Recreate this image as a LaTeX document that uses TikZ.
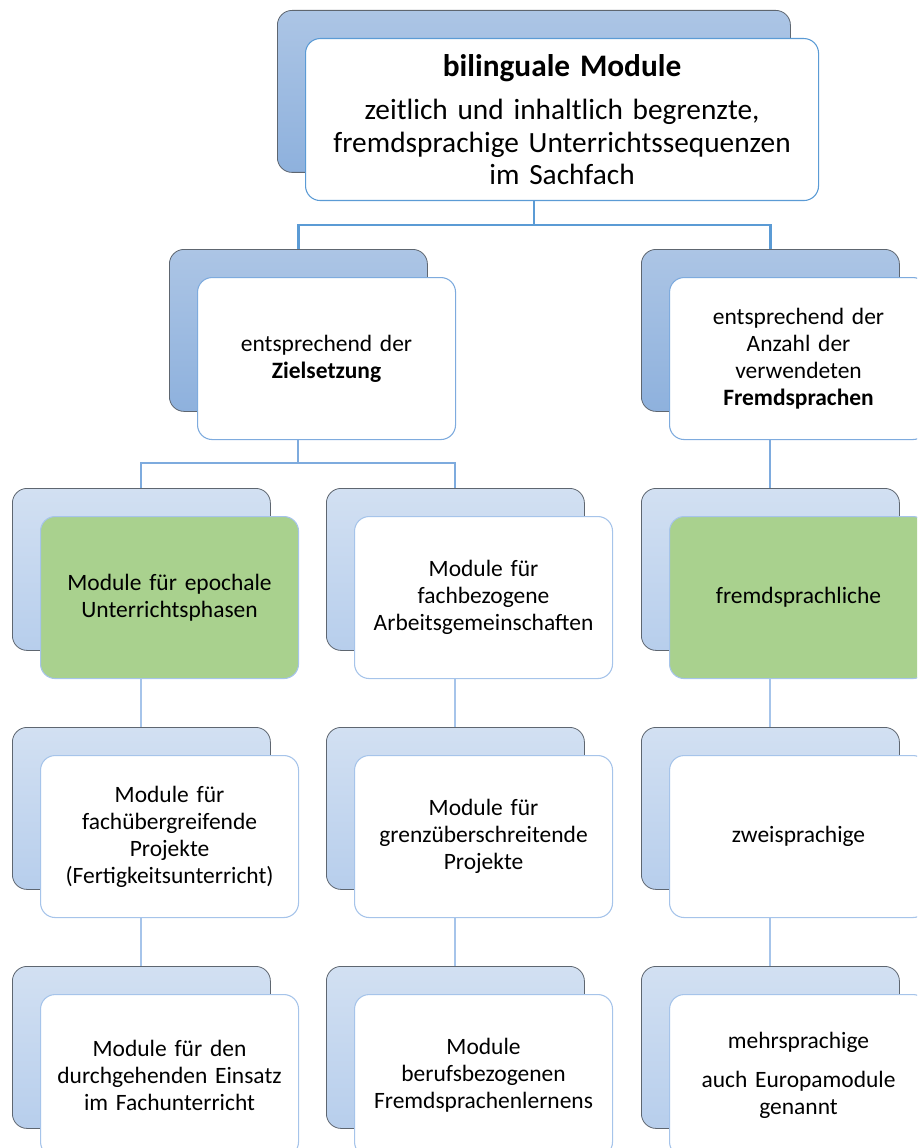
\documentclass[tikz,border=0pt]{standalone}
\usepackage{fontspec}
\setmainfont{Carlito}
\definecolor{edgegray}{HTML}{5E6670}
\definecolor{topA}{HTML}{ACC5E5}
\definecolor{botA}{HTML}{8EB1DD}
\definecolor{topB}{HTML}{D2E0F2}
\definecolor{botB}{HTML}{B7CEEC}
\definecolor{lineA}{HTML}{5B9BD5}
\definecolor{lineB}{HTML}{7EABDE}
\definecolor{lineC}{HTML}{A6C4EA}
\definecolor{leaf}{HTML}{A9D18E}
\begin{document}
\begin{tikzpicture}[x=0.75pt,y=-0.75pt,
  backbox/.style={draw=edgegray, line width=0.6pt, rounded corners=11pt,
    minimum width=193.5pt, minimum height=121.5pt, inner sep=0pt, anchor=north west},
  backdark/.style={backbox, top color=topA, bottom color=botA},
  backlight/.style={backbox, top color=topB, bottom color=botB},
  card/.style={fill=white, line width=0.8pt, rounded corners=11pt,
    minimum width=193.5pt, minimum height=121.5pt, inner xsep=2pt, text width=189pt,
    align=center, anchor=north west, font=\fontsize{17.6}{20.3}\selectfont},
  cardA/.style={card, draw=lineA},
  cardB/.style={card, draw=lineB},
  cardC/.style={card, draw=lineC},
  linkA/.style={draw=lineA, line width=1.9pt},
  linkB/.style={draw=lineB, line width=1.5pt},
  linkC/.style={draw=lineC, line width=1.5pt}]
\useasboundingbox (0,0) rectangle (917,1148);
\clip (0,0) rectangle (917,1148);

% level 1
\node[backdark, minimum width=384.75pt] (topb) at (277,10) {};
\node[cardA, minimum width=384.75pt, text width=378pt,
      font=\fontsize{22}{24.4}\selectfont] (top) at (305,38)
  {{\fontsize{23.5}{24}\selectfont\bfseries bilinguale Module}\\[8pt]
   zeitlich und inhaltlich begrenzte,\\
   fremdsprachige Unterrichtssequenzen\\
   im Sachfach};

% level 2
\node[backdark] (zielb) at (169,249) {};
\node[cardB] (ziel) at (197,277) {entsprechend der\\\textbf{Zielsetzung}};
\node[backdark] (fremdb) at (641,249) {};
\node[cardB] (fremd) at (669,277)
  {entsprechend der\\Anzahl der\\verwendeten\\\textbf{Fremdsprachen}};

% level 3
\node[backlight] (epob) at (12,488) {};
\node[cardC, fill=leaf] (epo) at (40,516) {Module für epochale\\Unterrichtsphasen};
\node[backlight] (agb) at (326,488) {};
\node[cardC] (ag) at (354,516) {Module für\\fachbezogene\\Arbeitsgemeinschaften};
\node[backlight] (fsb) at (641,488) {};
\node[cardC, fill=leaf] (fs) at (669,516) {fremdsprachliche};

% level 4
\node[backlight] (projb) at (12,727) {};
\node[cardC] (proj) at (40,755)
  {Module für\\fachübergreifende\\Projekte\\(Fertigkeitsunterricht)};
\node[backlight] (grenzb) at (326,727) {};
\node[cardC] (grenz) at (354,755) {Module für\\grenzüberschreitende\\Projekte};
\node[backlight] (zweib) at (641,727) {};
\node[cardC] (zwei) at (669,755) {zweisprachige};

% level 5
\node[backlight] (durchb) at (12,966) {};
\node[cardC] (durch) at (40,994)
  {Module für den\\durchgehenden Einsatz\\im Fachunterricht};
\node[backlight] (berufb) at (326,966) {};
\node[cardC] (beruf) at (354,994) {Module\\berufsbezogenen\\Fremdsprachenlernens};
\node[backlight] (mehrb) at (641,966) {};
\node[cardC] (mehr) at (669,994) {mehrsprachige\\[9pt]auch Europamodule\\genannt};

% connectors
\coordinate (j1) at (533,225);
\coordinate (j2) at (298,463);
\draw[linkA] (topb.center |- top.south) -- (topb.center |- j1);
\draw[linkA] (zielb.north) -- (zielb.north |- j1) -- (fremdb.north |- j1) -- (fremdb.north);
\draw[linkB] (zielb.center |- ziel.south) -- (zielb.center |- j2);
\draw[linkB] (epob.north) -- (epob.north |- j2) -- (agb.north |- j2) -- (agb.north);
\draw[linkB] (fremdb.center |- fremd.south) -- (fsb.north);
\draw[linkC] (epob.center |- epo.south) -- (projb.north);
\draw[linkC] (agb.center |- ag.south) -- (grenzb.north);
\draw[linkC] (fsb.center |- fs.south) -- (zweib.north);
\draw[linkC] (projb.center |- proj.south) -- (durchb.north);
\draw[linkC] (grenzb.center |- grenz.south) -- (berufb.north);
\draw[linkC] (zweib.center |- zwei.south) -- (mehrb.north);
\end{tikzpicture}
\end{document}
